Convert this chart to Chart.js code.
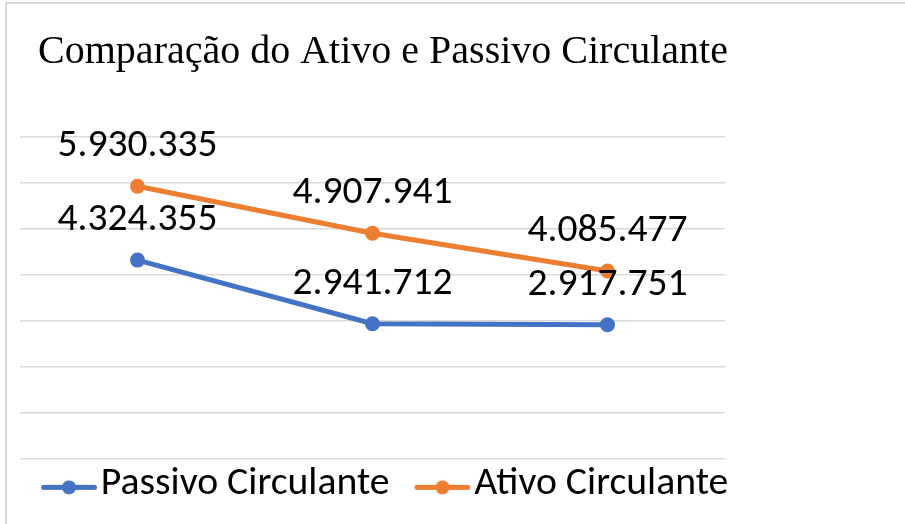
<!DOCTYPE html>
<html>
<head>
<meta charset="utf-8">
<script src="https://cdn.jsdelivr.net/npm/chart.js@4/dist/chart.umd.min.js"></script>
<style>
    html, body { margin: 0; padding: 0; background: #fff; }
    #wrap { width: 905px; height: 524px; position: relative; }
</style>
</head>
<body>
<div id="wrap"><canvas id="grafico"></canvas></div>
<script>
    // dados
    const categorias = ['Ano 1', 'Ano 2', 'Ano 3'];
    const passivoCirculante = [4324355, 2941712, 2917751];
    const ativoCirculante = [5930335, 4907941, 4085477];
    const eixoMin = 0;
    const eixoMax = 7000000;
    const eixoPasso = 1000000;

    const titulo = 'Comparação do Ativo e Passivo Circulante';
    const azul = '#4472C4';
    const laranja = '#ED7D31';
    const cinzaGrade = '#d9d9d9';

    function formatarBR(v) {
        return String(Math.round(v)).replace(/\B(?=(\d{3})+(?!\d))/g, '.');
    }

    // marcador da legenda: linha com bolinha no meio
    function marcador(cor) {
        const c = document.createElement('canvas');
        c.width = 92;
        c.height = 24;
        const g = c.getContext('2d');
        const y = 15.5;
        g.strokeStyle = cor;
        g.lineWidth = 5;
        g.lineCap = 'round';
        g.beginPath();
        g.moveTo(38.5, y);
        g.lineTo(89.5, y);
        g.stroke();
        g.fillStyle = cor;
        g.beginPath();
        g.arc(64, y, 7, 0, Math.PI * 2);
        g.fill();
        return c;
    }
    const marcadores = [marcador(azul), marcador(laranja)];

    const moldura = {
        id: 'moldura',
        beforeDraw(chart) {
            const ctx = chart.ctx;
            ctx.save();
            ctx.fillStyle = '#fff';
            ctx.fillRect(0, 0, chart.width, chart.height);
            ctx.strokeStyle = cinzaGrade;
            ctx.lineWidth = 2;
            ctx.beginPath();
            ctx.moveTo(6, chart.height);
            ctx.lineTo(6, 3);
            ctx.lineTo(chart.width, 3);
            ctx.stroke();
            ctx.restore();
        },
    };

    const rotulos = {
        id: 'rotulos',
        afterDatasetsDraw(chart) {
            const ctx = chart.ctx;
            ctx.save();
            ctx.font = '39.5px Carlito, Calibri, "Liberation Sans", sans-serif';
            ctx.fillStyle = '#000';
            ctx.textAlign = 'center';
            ctx.textBaseline = 'alphabetic';
            chart.data.datasets.forEach((ds, i) => {
                const meta = chart.getDatasetMeta(i);
                meta.data.forEach((pt, j) => {
                    ctx.fillText(formatarBR(ds.data[j]), pt.x, pt.y - 30);
                });
            });
            ctx.restore();
        },
    };

    new Chart(document.getElementById('grafico'), {
        type: 'line',
        data: {
            labels: categorias,
            datasets: [
                {
                    label: 'Passivo Circulante',
                    data: passivoCirculante,
                    borderColor: azul,
                    backgroundColor: azul,
                    borderWidth: 5,
                    pointRadius: 7.5,
                    pointBorderWidth: 0,
                    pointBackgroundColor: azul,
                    tension: 0,
                },
                {
                    label: 'Ativo Circulante',
                    data: ativoCirculante,
                    borderColor: laranja,
                    backgroundColor: laranja,
                    borderWidth: 5,
                    pointRadius: 7.5,
                    pointBorderWidth: 0,
                    pointBackgroundColor: laranja,
                    tension: 0,
                },
            ],
        },
        options: {
            responsive: true,
            maintainAspectRatio: false,
            animation: false,
            layout: { padding: { left: 16, right: 155, top: 0, bottom: 10.3 } },
            scales: {
                x: {
                    display: false,
                    offset: true,
                },
                y: {
                    display: true,
                    min: eixoMin,
                    max: eixoMax,
                    ticks: { display: false, stepSize: eixoPasso },
                    border: { display: false },
                    grid: { color: cinzaGrade, lineWidth: 1.5, drawTicks: false },
                    afterFit(s) { s.width = 4; },
                },
                yDir: {
                    display: true,
                    position: 'right',
                    ticks: { display: false },
                    border: { display: false },
                    grid: { display: false, drawTicks: false },
                    afterFit(s) { s.width = 25; },
                },
            },
            plugins: {
                title: {
                    display: true,
                    text: titulo,
                    align: 'center',
                    color: '#000',
                    font: { family: '"Liberation Serif", "Times New Roman", serif', size: 40, weight: 'normal' },
                    padding: { top: 28.5, bottom: 60.5 },
                },
                legend: {
                    display: true,
                    position: 'bottom',
                    align: 'start',
                    labels: {
                        color: '#000',
                        font: { family: 'Carlito, Calibri, "Liberation Sans", sans-serif', size: 39.7 },
                        usePointStyle: true,
                        pointStyleWidth: 60,
                        padding: 5,
                        generateLabels(chart) {
                            const itens = Chart.defaults.plugins.legend.labels.generateLabels(chart);
                            itens.forEach((it, i) => { it.pointStyle = marcadores[i]; });
                            return itens;
                        },
                    },
                },
                tooltip: { enabled: false },
            },
        },
        plugins: [moldura, rotulos],
    });
</script>
</body>
</html>
